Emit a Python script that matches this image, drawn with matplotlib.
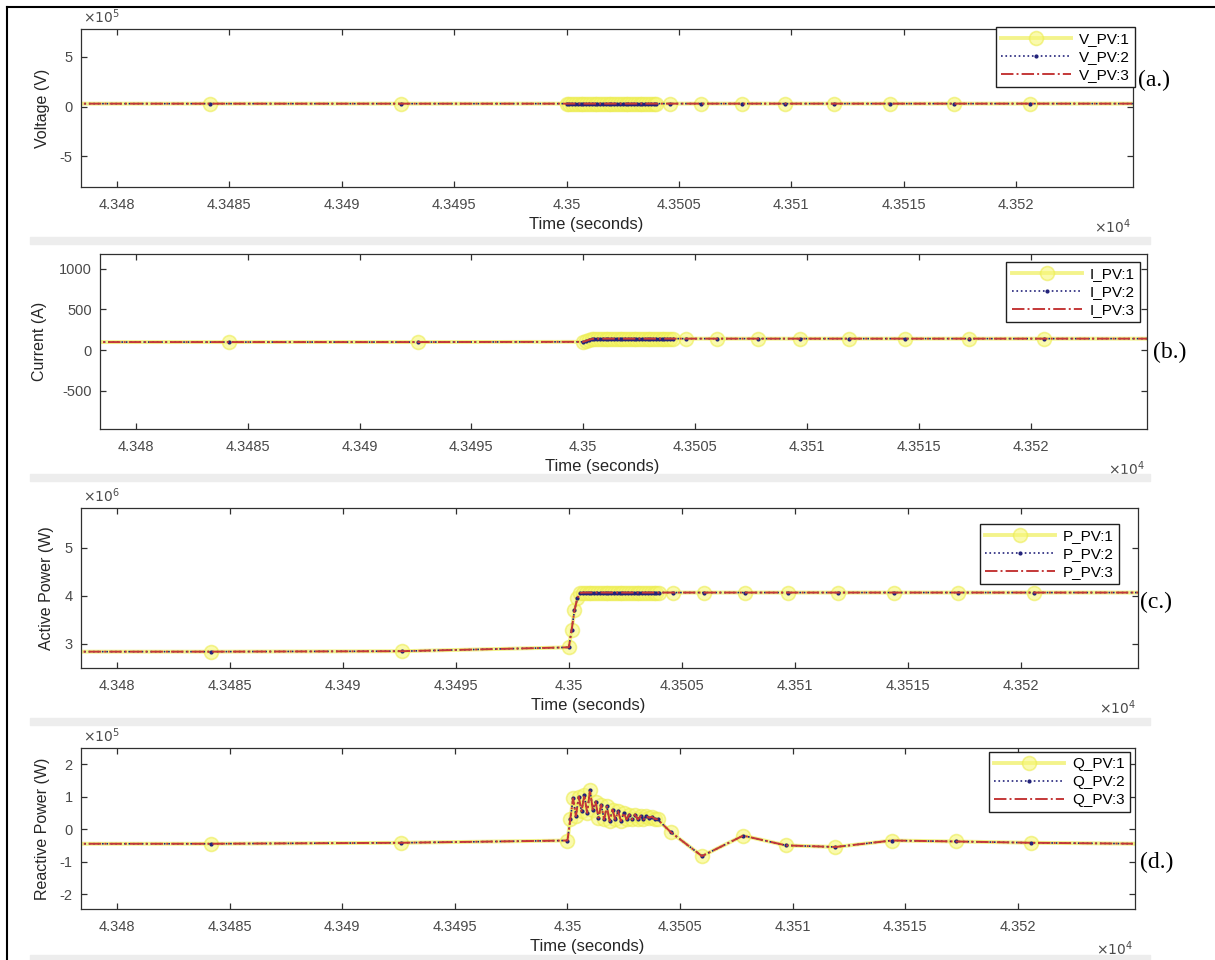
import math
import matplotlib
matplotlib.use("Agg")
import matplotlib.pyplot as plt
from matplotlib.ticker import FuncFormatter, FixedLocator
from matplotlib.lines import Line2D
from matplotlib.patches import Rectangle

plt.rcParams['font.family'] = ['Liberation Sans', 'DejaVu Sans']

# solver time stamps (s)
time_s = [43476.0, 43484.16, 43492.62,
          43500.000, 43500.125, 43500.250, 43500.375, 43500.500, 43500.625, 43500.750, 43500.875,
          43501.000, 43501.125, 43501.250, 43501.375, 43501.500, 43501.625, 43501.750, 43501.875,
          43502.000, 43502.125, 43502.250, 43502.375, 43502.500, 43502.625, 43502.750, 43502.875,
          43503.000, 43503.125, 43503.250, 43503.375, 43503.500, 43503.625, 43503.750, 43503.875,
          43504.000,
          43504.6, 43505.97, 43507.8, 43509.7, 43511.9, 43514.4, 43517.25, 43520.6, 43525.5]

v_pv = [28700, 28700, 28700,
        28750, 28900, 28950, 29000, 29000, 29000, 29000, 29000,
        29000, 29000, 29000, 29000, 29000, 29000, 29000, 29000,
        29000, 29000, 29000, 29000, 29000, 29000, 29000, 29000,
        29000, 29000, 29000, 29000, 29000, 29000, 29000, 29000,
        29000,
        29000, 29000, 29000, 29000, 29000, 29000, 29000, 29000, 29000]

i_pv = [98, 98, 98,
        101, 112, 125, 135, 140, 140, 140, 140,
        140, 140, 140, 140, 140, 140, 140, 140,
        140, 140, 140, 140, 140, 140, 140, 140,
        140, 140, 140, 140, 140, 140, 140, 140,
        140,
        140, 140, 140, 140, 140, 140, 140, 140, 140]

p_pv = [2.84e6, 2.84e6, 2.85e6,
        2.93e6, 3.30e6, 3.70e6, 3.95e6, 4.06e6, 4.07e6, 4.07e6, 4.07e6,
        4.07e6, 4.07e6, 4.07e6, 4.07e6, 4.07e6, 4.07e6, 4.07e6, 4.07e6,
        4.07e6, 4.07e6, 4.07e6, 4.07e6, 4.07e6, 4.07e6, 4.07e6, 4.07e6,
        4.07e6, 4.07e6, 4.07e6, 4.07e6, 4.07e6, 4.07e6, 4.07e6, 4.07e6,
        4.07e6,
        4.07e6, 4.07e6, 4.07e6, 4.07e6, 4.07e6, 4.07e6, 4.07e6, 4.07e6, 4.07e6]

q_pv = [-0.45e5, -0.45e5, -0.42e5,
        -0.35e5, 0.30e5, 0.95e5, 0.40e5, 1.00e5, 0.55e5, 1.05e5, 0.50e5,
        1.20e5, 0.60e5, 0.85e5, 0.35e5, 0.75e5, 0.30e5, 0.70e5, 0.25e5,
        0.60e5, 0.30e5, 0.55e5, 0.25e5, 0.50e5, 0.30e5, 0.45e5, 0.30e5,
        0.45e5, 0.30e5, 0.40e5, 0.30e5, 0.40e5, 0.35e5, 0.38e5, 0.32e5,
        0.30e5,
        -0.10e5, -0.83e5, -0.20e5, -0.50e5, -0.55e5, -0.35e5, -0.38e5, -0.42e5, -0.45e5]

x_ticks = [43480, 43485, 43490, 43495, 43500, 43505, 43510, 43515, 43520]

W, H = 1215, 960
# name, data, ylabel, tag, scale, yticks, ylim, box px (left, right, top, bottom),
# legend offset px, tag position px, ylabel offset px
panels = [
    ('V_PV', v_pv, 'Voltage (V)', '(a.)', 1e5, [-5e5, 0, 5e5], (-8.1e5, 7.8e5),
     (81, 1133, 29, 187), (-2, -2), (1138, 80), 31),
    ('I_PV', i_pv, 'Current (A)', '(b.)', 1, [-500, 0, 500, 1000], (-970, 1180),
     (100, 1147, 254, 429), (7, 8), (1153, 352), 53),
    ('P_PV', p_pv, 'Active Power (W)', '(c.)', 1e6, [3e6, 4e6, 5e6], (2.5e6, 5.83e6),
     (81, 1138, 508, 668), (19, 16), (1140, 602), 27),
    ('Q_PV', q_pv, 'Reactive Power (W)', '(d.)', 1e5, [-2e5, -1e5, 0, 1e5, 2e5], (-2.46e5, 2.5e5),
     (81, 1135, 748, 909), (5, 4), (1140, 862), 31),
]

fig = plt.figure(figsize=(W / 100, H / 100), dpi=100)

# light grey bands between the stacked figures
for y0, y1 in [(237, 244), (474, 481), (718, 725), (955, 960)]:
    fig.patches.append(Rectangle((30 / W, 1 - y1 / H), 1120 / W, (y1 - y0) / H,
                                 transform=fig.transFigure, color='#ededed', zorder=0))
fig.lines.append(Line2D([7 / W, 7 / W], [0, 1 - 7 / H], transform=fig.transFigure, color='black', lw=1.5))
fig.lines.append(Line2D([7 / W, 1], [1 - 7 / H, 1 - 7 / H], transform=fig.transFigure, color='black', lw=1.5))

for name, vals, ylab, tag, scale, yt, yl, box, loff, tagpos, ylpad in panels:
    L, R, T, B = box
    ax = fig.add_axes([L / W, 1 - B / H, (R - L) / W, (B - T) / H])
    ax.plot(time_s, vals, color='#ecec40', lw=2.8, alpha=0.6, marker='o', ms=10,
            mfc='#f8f878', mec='#ecec50', mew=1.2, label=name + ':1')
    ax.plot(time_s, vals, color='#22227a', lw=1.2, ls=':', marker='.', ms=4, label=name + ':2')
    ax.plot(time_s, vals, color='#c43838', lw=1.4, ls='-.', label=name + ':3')

    ax.set_xlim(43478.4, 43525.2)
    ax.set_ylim(*yl)
    ax.xaxis.set_major_locator(FixedLocator(x_ticks))
    ax.xaxis.set_major_formatter(FuncFormatter(lambda x, _: f'{x / 1e4:g}'))
    ax.yaxis.set_major_locator(FixedLocator(yt))
    ax.yaxis.set_major_formatter(FuncFormatter(lambda y, _, s=scale: f'{y / s:g}'))
    ax.tick_params(direction='in', length=4.5, width=0.9, top=True, right=True,
                   labelsize=10.5, labelcolor='#4a4a4a', color='#303030')
    ax.tick_params(axis='x', pad=8)
    ax.tick_params(axis='y', pad=6)
    for sp in ax.spines.values():
        sp.set_color('#303030')
        sp.set_linewidth(0.9)

    h = B - T
    w = R - L
    ax.set_xlabel('Time (seconds)', fontsize=12, color='#262626')
    ax.xaxis.set_label_coords(0.48, -30 / h)
    ax.set_ylabel(ylab, fontsize=11.5, color='#262626')
    ax.yaxis.set_label_coords(-ylpad / w, 0.5)

    ax.annotate(r'$\times10^{4}$', xy=(1, 0), xycoords='axes fraction', xytext=(-2, -30),
                textcoords='offset pixels', ha='right', va='top', fontsize=10, color='#4a4a4a')
    if scale != 1:
        ax.annotate(r'$\times10^{%d}$' % round(math.log10(scale)), xy=(0, 1),
                    xycoords='axes fraction', xytext=(2, 3), textcoords='offset pixels',
                    ha='left', va='bottom', fontsize=10, color='#4a4a4a')

    dx, dy = loff
    ax.legend(loc='upper right', bbox_to_anchor=(1 - dx / w, 1 - dy / h), borderaxespad=0,
              fontsize=11, labelspacing=0.25, borderpad=0.35, handlelength=4.6,
              handletextpad=0.5, fancybox=False, framealpha=1, edgecolor='#202020')

    fig.text(tagpos[0] / W, 1 - tagpos[1] / H, tag, family='Liberation Serif', fontsize=17,
             ha='left', va='center', color='black')

fig.savefig('out.png', dpi=100)
